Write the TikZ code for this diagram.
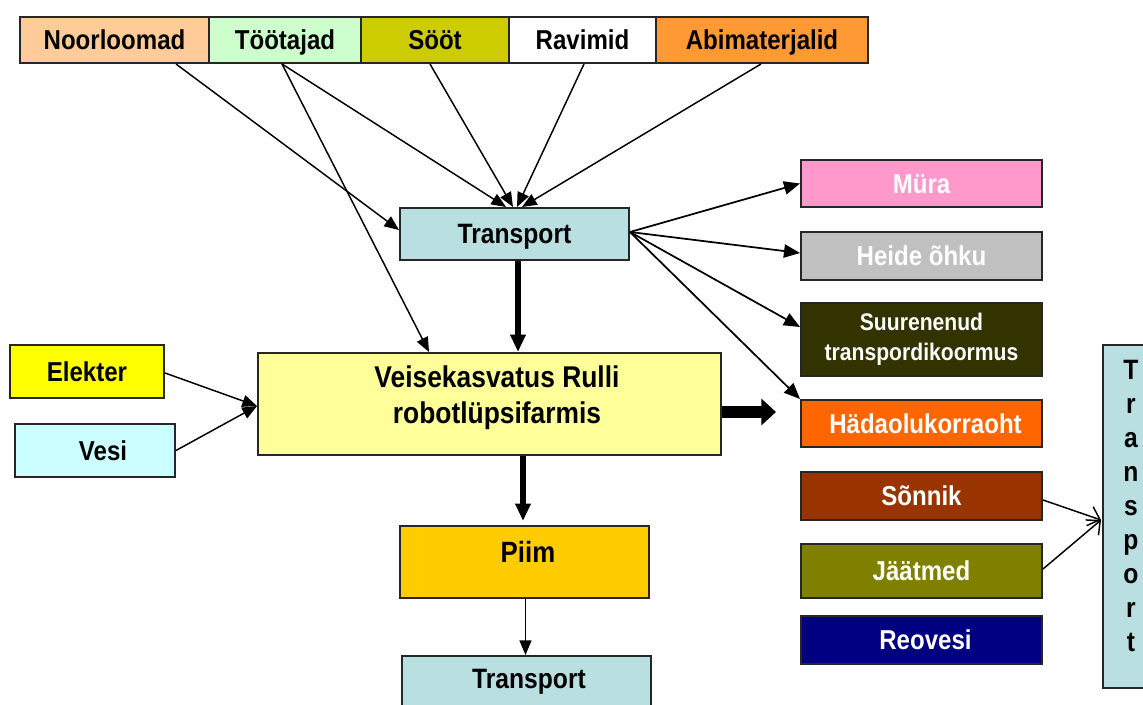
\documentclass[tikz,border=0pt]{standalone}
\usepackage{fontspec}
\setmainfont{Liberation Sans}[FakeStretch=0.88]
\usetikzlibrary{arrows.meta}
\definecolor{cNoor}{HTML}{FFCC99}
\definecolor{cToot}{HTML}{CCFFCC}
\definecolor{cSoot}{HTML}{CCCC00}
\definecolor{cAbi}{HTML}{FF9933}
\definecolor{cTrans}{HTML}{BADFE1}
\definecolor{cMain}{HTML}{FFFF99}
\definecolor{cElek}{HTML}{FFFF00}
\definecolor{cVesi}{HTML}{CCFFFF}
\definecolor{cPiim}{HTML}{FFCC00}
\definecolor{cMura}{HTML}{FF99CC}
\definecolor{cHeide}{HTML}{C0C0C0}
\definecolor{cSuur}{HTML}{333300}
\definecolor{cHada}{HTML}{FF6600}
\definecolor{cSonn}{HTML}{993300}
\definecolor{cJaat}{HTML}{808000}
\definecolor{cReo}{HTML}{000080}
\begin{document}
\begin{tikzpicture}[x=0.75pt,y=-0.75pt,
  basebox/.style={draw=black!85, line width=1.5pt, rectangle, inner sep=0pt, font=\bfseries\fontsize{20.5}{24}\selectfont},
  box/.style={basebox, text height=14.5pt, text depth=0pt},
  wbox/.style={box, text=white},
  lbl/.style={inner sep=0pt, align=center, font=\bfseries\fontsize{21}{27}\selectfont},
  thinarrow/.style={line width=1.1pt, -{Triangle[length=11pt,width=9pt]}},
  medarrow/.style={line width=1.3pt, -{Triangle[length=12pt,width=10pt]}},
  thickarrow/.style={line width=4pt, -{Triangle[length=13pt,width=11pt]}},
  bigarrow/.style={line width=9pt, -{Triangle[length=11pt,width=19.5pt]}},
  barbarrow/.style={line width=1.1pt, -{Straight Barb[length=8pt,width=15pt]}},
]
\useasboundingbox (0,0) rectangle (1143,705);
% top row
\node[box, fill=cNoor, minimum width=141.75pt, minimum height=34.5pt] (noor) at (114.5,40) {Noorloomad};
\node[box, fill=cToot, minimum width=114pt, minimum height=34.5pt] (toot) at (285,40) {Töötajad};
\node[box, fill=cSoot, minimum width=111pt, minimum height=34.5pt] (soot) at (435,40) {Sööt};
\node[box, fill=white, minimum width=110.25pt, minimum height=34.5pt] (ravi) at (582.5,40) {Ravimid};
\node[box, fill=cAbi, minimum width=159pt, minimum height=34.5pt] (abi) at (762,40) {Abimaterjalid};
% middle
\node[box, fill=cTrans, minimum width=171.75pt, minimum height=39pt, font=\bfseries\fontsize{21}{24}\selectfont] (trans) at (514.5,234) {Transport};
\node[box, fill=cMain, minimum width=347.25pt, minimum height=76.5pt] (main) at (489.5,404) {};
\node[lbl, font=\bfseries\fontsize{22.5}{27}\selectfont] (maintext) at (497,398) {Veisekasvatus Rulli\\robotlüpsifarmis};
\node[box, fill=cElek, minimum width=115.5pt, minimum height=39.75pt] (elek) at (87,371.5) {Elekter};
\node[box, fill=cVesi, minimum width=120pt, minimum height=39.75pt] (vesi) at (95,450.5) {\hspace*{12pt}Vesi};
\node[box, fill=cPiim, minimum width=186.75pt, minimum height=54pt] (piim) at (524.5,562) {};
\node[lbl, font=\bfseries\fontsize{22}{27}\selectfont] (piimtext) at (528,552) {Piim};
\node[box, fill=cTrans, minimum width=186.75pt, minimum height=48pt] (tb) at (526.5,688) {};
\node[lbl] (tbtext) at (529,682) {Transport};
% right column
\node[wbox, fill=cMura, minimum width=180.75pt, minimum height=35.25pt] (mura) at (921.5,183.5) {Müra};
\node[wbox, fill=cHeide, minimum width=180.75pt, minimum height=36pt] (heide) at (921.5,256) {Heide õhku};
\node[basebox, text=white, fill=cSuur, minimum width=180.75pt, minimum height=54.75pt, align=center, font=\bfseries\fontsize{18}{22.5}\selectfont] (suur) at (921.5,339.5) {Suurenenud\\transpordikoormus};
\node[wbox, fill=cHada, minimum width=180.75pt, minimum height=35.25pt] (hada) at (921.5,423.5) {\hspace*{6pt}Hädaolukorraoht};
\node[wbox, fill=cSonn, minimum width=180.75pt, minimum height=36pt] (sonn) at (921.5,496) {Sõnnik};
\node[wbox, fill=cJaat, minimum width=180.75pt, minimum height=40.5pt] (jaat) at (921.5,571) {Jäätmed};
\node[wbox, fill=cReo, minimum width=180.75pt, minimum height=36pt] (reo) at (921.5,640) {\hspace*{6pt}Reovesi};
\node[box, fill=cTrans, minimum width=35.25pt, minimum height=257.25pt] (tv) at (1126.5,516.5) {};
\node[lbl, font=\bfseries\fontsize{21}{25.5}\selectfont] (tvtext) at (1131,506) {T\\r\\a\\n\\s\\p\\o\\r\\t};
\coordinate (outtip) at (776,412);
% arrows into top transport
\draw[thinarrow] ([shift={(61.5,0)}]noor.south) -- ([shift={(0,-4)}]trans.west);
\draw[thinarrow] ([shift={(-3,0)}]toot.south) -- ([shift={(-8.5,0)}]trans.north);
\draw[thinarrow] ([shift={(-3,0)}]toot.south) -- ([shift={(-60.5,0)}]main.north);
\draw[thinarrow] ([shift={(-5,0)}]soot.south) -- ([shift={(-1.5,0)}]trans.north);
\draw[thinarrow] ([shift={(1.5,0)}]ravi.south) -- ([shift={(2.5,0)}]trans.north);
\draw[thinarrow] ([shift={(-1,0)}]abi.south) -- ([shift={(7.5,0)}]trans.north);
\draw[thickarrow] ([shift={(3.5,0)}]trans.south) -- ([shift={(28.5,0)}]main.north);
% out of transport
\draw[medarrow] ([shift={(0,-2)}]trans.east) -- (mura.west);
\draw[medarrow] ([shift={(0,-2)}]trans.east) -- ([shift={(0,-3)}]heide.west);
\draw[medarrow] ([shift={(0,-2)}]trans.east) -- ([shift={(0,-12.5)}]suur.west);
\draw[medarrow] ([shift={(0,-2)}]trans.east) -- (hada.north west);
% into main
\draw[thinarrow] ([shift={(0,1.5)}]elek.east) -- ([shift={(0,2)}]main.west);
\draw[thinarrow] (vesi.east) -- ([shift={(0,2)}]main.west);
\draw[bigarrow] ([shift={(0,8)}]main.east) -- (outtip);
\draw[thickarrow] ([shift={(33.5,0)}]main.south) -- ([shift={(-1.5,-4)}]piim.north);
\draw[thinarrow] ([shift={(1,0)}]piim.south) -- ([shift={(-1,0)}]tb.north);
% to vertical transport
\draw[barbarrow] ([shift={(0,4)}]sonn.east) -- ([shift={(-1,3.5)}]tv.west);
\draw[barbarrow] ([shift={(0,-2)}]jaat.east) -- ([shift={(-1,3.5)}]tv.west);
\end{tikzpicture}
\end{document}
